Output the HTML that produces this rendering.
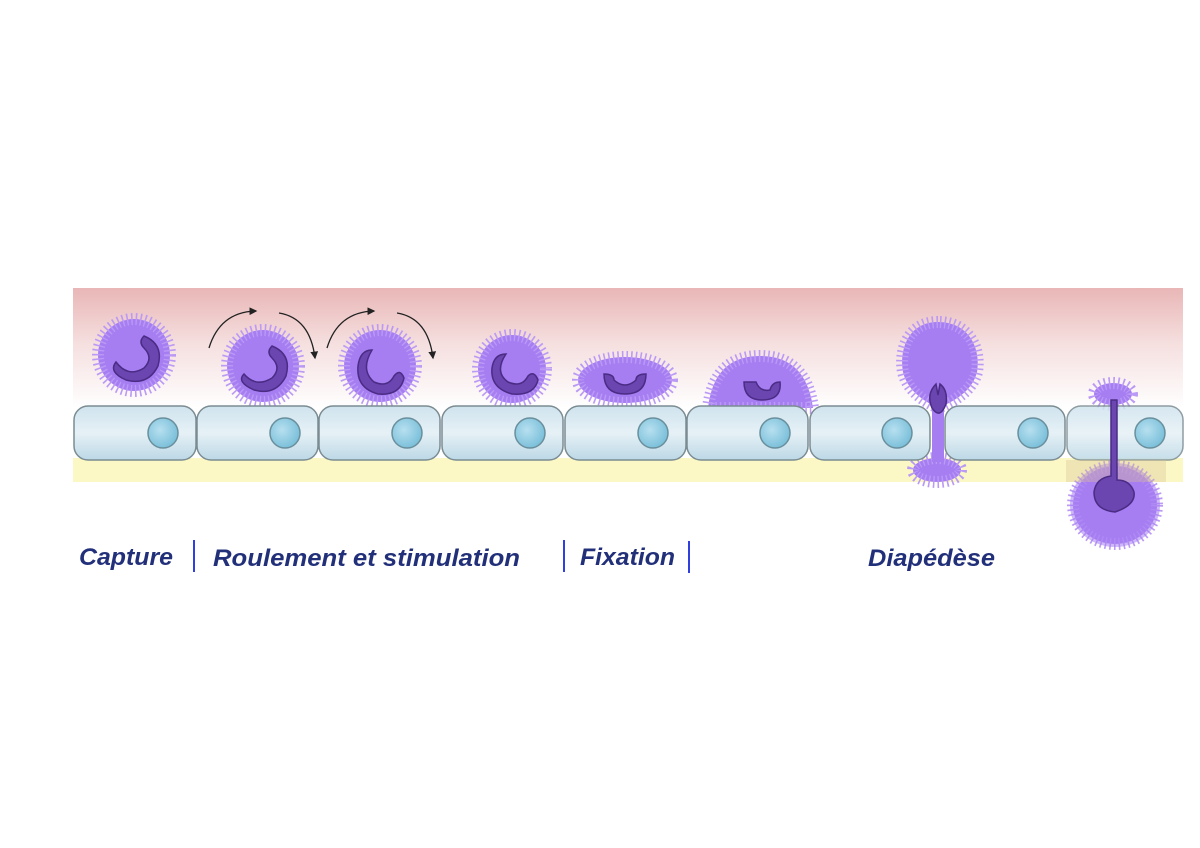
<!DOCTYPE html>
<html><head><meta charset="utf-8"><style>
html,body{margin:0;padding:0;background:#fff;width:1200px;height:848px;overflow:hidden}
svg{display:block}
text{font-family:"Liberation Sans",sans-serif;font-weight:bold;font-style:italic;fill:#22307a;font-size:24px}
</style></head><body>
<svg width="1200" height="848" viewBox="0 0 1200 848">
<defs>
<linearGradient id="pk" x1="0" y1="0" x2="0" y2="1">
<stop offset="0" stop-color="#e9b6b6"/><stop offset="0.45" stop-color="#f5dede"/><stop offset="1" stop-color="#ffffff"/>
</linearGradient>
<linearGradient id="ec" x1="0" y1="0" x2="0" y2="1">
<stop offset="0" stop-color="#cfe3ee"/><stop offset="0.5" stop-color="#e6f1f6"/><stop offset="1" stop-color="#bcd8e6"/>
</linearGradient>
<radialGradient id="nu" cx="0.4" cy="0.4" r="0.6">
<stop offset="0" stop-color="#b7e0f0"/><stop offset="1" stop-color="#7cc0da"/>
</radialGradient>
<marker id="ar" markerWidth="6" markerHeight="6" refX="5" refY="3" orient="auto"><path d="M0,0 L6,3 L0,6z" fill="#222"/></marker>
</defs>
<rect x="73" y="288" width="1110" height="120" fill="url(#pk)"/>
<rect x="73" y="458" width="1110" height="24" fill="#fbf8c6"/>

<g fill="#a67ef2">
<g stroke="#bb9af5" stroke-width="12" stroke-dasharray="1.5 3" fill="#a67ef2">
<circle cx="134" cy="355" r="36"/>
<circle cx="263" cy="366" r="36"/>
<circle cx="380" cy="366" r="36"/>
<circle cx="512" cy="369" r="34"/>
<ellipse cx="625" cy="380" rx="47" ry="23"/>
<path d="M708,408 Q714,356 760,356 Q806,356 813,408 Z"/>
<path d="M938,322 C908,322 899,350 903,372 C908,393 928,403 938,408 C950,403 972,393 977,372 C981,347 968,322 938,322 Z"/>
<ellipse cx="937" cy="470" rx="24" ry="12"/>
<ellipse cx="1113" cy="394" rx="19" ry="11"/>
<ellipse cx="1115" cy="505" rx="42" ry="39"/>
</g>
<rect x="932" y="400" width="12" height="62"/>
</g>

<g stroke="#7b8c92" stroke-width="1.5" fill="url(#ec)">
<rect x="74" y="406" width="122" height="54" rx="14"/>
<rect x="197" y="406" width="121" height="54" rx="14"/>
<rect x="319" y="406" width="121" height="54" rx="14"/>
<rect x="442" y="406" width="121" height="54" rx="14"/>
<rect x="565" y="406" width="121" height="54" rx="14"/>
<rect x="687" y="406" width="121" height="54" rx="14"/>
<rect x="810" y="406" width="120" height="54" rx="14"/>
<rect x="945" y="406" width="120" height="54" rx="14"/>
<rect x="1067" y="406" width="116" height="54" rx="14" opacity="0.85"/>
</g>
<g stroke="#6a8f9c" stroke-width="1.5" fill="url(#nu)">
<circle cx="163" cy="433" r="15"/><circle cx="285" cy="433" r="15"/><circle cx="407" cy="433" r="15"/>
<circle cx="530" cy="433" r="15"/><circle cx="653" cy="433" r="15"/><circle cx="775" cy="433" r="15"/>
<circle cx="897" cy="433" r="15"/><circle cx="1033" cy="433" r="15"/><circle cx="1150" cy="433" r="15"/>
</g>
<ellipse cx="1115" cy="505" rx="45" ry="42" fill="#a67ef2" opacity="0.55"/>
<rect x="1066" y="460" width="100" height="22" fill="#d9c08f" opacity="0.35"/>

<g fill="#6b45b0" stroke="#4a2c85" stroke-width="1.5">
<path d="M116,362 Q128,378 144,368 Q154,358 144,348 Q138,342 144,336 Q164,344 158,366 Q148,386 126,380 Q108,372 116,362Z"/>
<path d="M244,374 Q256,388 272,378 Q282,368 272,358 Q266,352 272,346 Q292,354 286,376 Q276,396 254,390 Q236,382 244,374Z"/>
<path d="M372,350 Q360,370 374,382 Q388,388 394,376 Q400,368 404,378 Q400,396 378,394 Q356,388 358,366 Q360,350 372,350Z"/>
<path d="M506,354 Q494,372 508,382 Q522,388 528,376 Q534,370 538,380 Q534,396 512,394 Q490,388 492,368 Q494,354 506,354Z"/>
<path d="M604,374 Q604,394 625,394 Q646,394 646,374 Q636,374 636,380 Q625,390 614,380 Q614,374 604,374Z"/>
<path d="M744,382 Q744,400 762,400 Q782,400 780,382 Q772,382 770,390 Q760,392 756,382Z"/>
<path d="M936,384 Q926,394 932,408 Q940,420 946,404 Q948,390 940,384 L938,395 Z"/>
<path d="M1111,400 L1117,400 L1117,480 Q1130,480 1134,492 Q1136,505 1115,512 Q1094,510 1094,492 Q1096,478 1111,476Z"/>
</g>

<g fill="none" stroke="#222" stroke-width="1.3">
<path d="M209,348 Q220,312 256,311" marker-end="url(#ar)"/>
<path d="M279,313 Q310,318 315,358" marker-end="url(#ar)"/>
<path d="M327,348 Q338,312 374,311" marker-end="url(#ar)"/>
<path d="M397,313 Q428,318 433,358" marker-end="url(#ar)"/>
</g>

<text x="79" y="565" textLength="94" lengthAdjust="spacingAndGlyphs">Capture</text>
<text x="213" y="566" textLength="307" lengthAdjust="spacingAndGlyphs">Roulement et stimulation</text>
<text x="580" y="565" textLength="95" lengthAdjust="spacingAndGlyphs">Fixation</text>
<text x="868" y="566" textLength="127" lengthAdjust="spacingAndGlyphs">Diapédèse</text>
<g stroke="#2f3fe0" stroke-width="2">
<line x1="194" y1="540" x2="194" y2="572"/>
<line x1="564" y1="540" x2="564" y2="572"/>
<line x1="689" y1="541" x2="689" y2="573"/>
</g>
</svg>
</body></html>
